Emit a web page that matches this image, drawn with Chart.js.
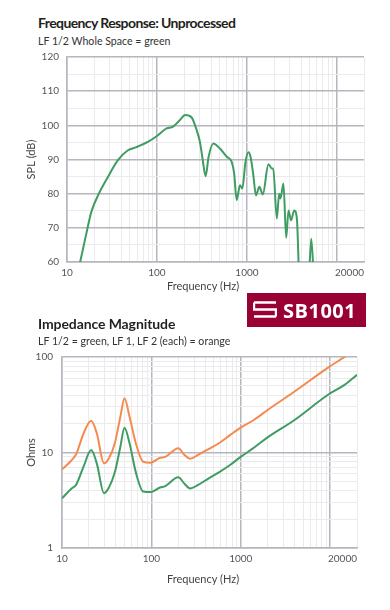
<!DOCTYPE html>
<html>
<head>
<meta charset="utf-8">
<script src="https://cdn.jsdelivr.net/npm/chart.js@4.4.1/dist/chart.umd.min.js"></script>
<style>
    body { margin: 0; width: 390px; height: 610px; background: #fff; position: relative; overflow: hidden; font-family: Lato, 'Open Sans', sans-serif; }
    .title { position: absolute; left: 38px; font-weight: bold; font-size: 14px; color: #231f20; white-space: nowrap; }
    .sub { position: absolute; left: 38px; font-size: 10.6px; color: #333; white-space: nowrap; }
    .xt { position: absolute; width: 140px; margin-left: -70px; text-align: center; font-size: 11px; color: #444; }
    canvas { position: absolute; left: 0; }
    .logo { position: absolute; left: 247px; top: 293px; width: 119px; height: 34px; background: #990033; color: #fff; }
    .logo svg { position: absolute; left: 6px; top: 8px; }
    .logo span { position: absolute; left: 36px; top: 4px; font: bold 20px 'Open Sans', sans-serif; letter-spacing: 0.5px; }
</style>
</head>
<body>
<div class="title" style="top:14px; letter-spacing:-0.6px">Frequency Response: Unprocessed</div>
<div class="sub" style="top:35px">LF 1/2 Whole Space = green</div>
<canvas id="splChart" width="390" height="300" style="top:0"></canvas>
<div class="xt" style="left:203px; top:279px">Frequency (Hz)</div>

<div class="logo">
    <svg width="24" height="17" viewBox="0 0 24 17" fill="none" stroke="#fff" stroke-width="2.4">
        <path d="M1 1.5 H23 M1 1.5 V8.5 H15 M9 8.5 H23 V15.5 M1 15.5 H23"/>
    </svg>
    <span>SB1001</span>
</div>

<div class="title" style="top:315px; letter-spacing:-0.1px">Impedance Magnitude</div>
<div class="sub" style="top:335px">LF 1/2 = green, LF 1, LF 2 (each) = orange</div>
<canvas id="impChart" width="390" height="310" style="top:300px"></canvas>
<div class="xt" style="left:203px; top:572px">Frequency (Hz)</div>

<script>
// --- frequency response (dB) ---
const freqSpl = [12, 14, 16.4, 18.6, 22.6, 28.5, 36.8, 47.6, 59, 80, 99, 128, 151, 179, 206, 243, 276, 300, 322, 347, 375, 422, 500, 596, 677, 720, 769, 837, 889, 960, 1038, 1096, 1170, 1262, 1374, 1500, 1733, 1888, 1960, 2148, 2280, 2360, 2545, 2729, 2897, 3093, 3350, 3589, 3840, 4300, 4900, 5190, 5500, 5800];
const splGreen = [52, 60, 68.3, 74.6, 80, 84.9, 89.8, 92.7, 93.6, 95.2, 96.8, 99.1, 99.6, 101.5, 103.0, 102.3, 98.6, 95.2, 90, 85.1, 90.8, 94.7, 93.2, 90.8, 89.3, 86, 78.1, 82.5, 81.5, 89, 92.1, 90.8, 86, 79.5, 82.0, 79.8, 88.6, 87.4, 87.4, 72.7, 80.0, 78.6, 83.0, 67.1, 75.1, 72.2, 75.1, 72.7, 52, 40, 56, 66.8, 56, 40];

// --- impedance (ohms) ---
const freqImp = [10, 12.8, 14.4, 17.5, 21.2, 24.5, 29.5, 33.5, 39, 45, 50, 57, 67, 81, 97.5, 125, 143, 200, 235, 272, 330, 430, 570, 760, 1000, 1400, 2000, 4000, 9400, 14500, 20000];
const impGreen = [3.31, 4.2, 4.6, 7.2, 10.6, 7.7, 3.75, 4.3, 6.2, 11.5, 18.2, 12.5, 6.2, 3.9, 3.85, 4.3, 4.45, 5.5, 4.7, 4.2, 4.55, 5.3, 6.2, 7.4, 9.0, 11.2, 14.4, 21.9, 40, 51, 65];
const impOrange = [6.67, 8.3, 9.6, 16, 21.5, 15.9, 7.7, 8.7, 12.5, 23.7, 37, 23.7, 12.5, 8.0, 7.8, 8.8, 9.0, 11.1, 9.4, 8.6, 9.4, 10.8, 12.5, 15.2, 18.2, 21.9, 27.9, 43.5, 77, 100, 123];

// --- axes ---
const xTickValues = [10, 100, 1000, 20000];
const splTicks = [60, 70, 80, 90, 100, 110, 120];
const ohmTicks = [1, 10, 100];

const GREEN = '#3f9c62';
const ORANGE = '#f58a4f';
const majorGrid = '#b6b6be';
const minorGrid = '#ebebed';
const tickColor = '#555559';
const FONT = "Lato, 'Open Sans', sans-serif";

const isDecade = v => Math.abs(Math.log10(v) - Math.round(Math.log10(v))) < 1e-6;

// minor gridlines first, labelled ticks last, so align:'inner' only right-aligns the 20000 label
function logTicks(min, max, labelled) {
    const minor = [], major = [];
    for (let d = min; d < max; d *= 10) {
        for (let m = 1; m < 10; m++) {
            const v = d * m;
            if (v > max) break;
            if (m === 1) major.push(v); else minor.push(v);
        }
    }
    const list = minor.filter(v => !labelled.includes(v)).concat(major.filter(v => !labelled.includes(v)));
    return list.concat(labelled).map(v => ({ value: v }));
}

function xAxis(height, pad) {
    return {
        type: 'logarithmic',
        min: 10,
        max: 20000,
        afterBuildTicks: s => { s.ticks = logTicks(10, 20000, xTickValues); },
        afterFit: s => { s.height = height; },
        grid: {
            drawTicks: false,
            color: c => (c.tick && isDecade(c.tick.value)) ? majorGrid : minorGrid,
            lineWidth: c => (c.tick && isDecade(c.tick.value)) ? 1.5 : 1,
        },
        border: { color: majorGrid, width: 1.5 },
        ticks: {
            autoSkip: false,
            maxRotation: 0,
            align: 'inner',
            padding: pad,
            color: tickColor,
            font: { family: FONT, size: 10 },
            callback: v => xTickValues.includes(v) ? String(v) : '',
        },
    };
}

const common = {
    responsive: false,
    animation: false,
    plugins: { legend: { display: false }, tooltip: { enabled: false } },
    elements: { point: { radius: 0 } },
};

new Chart(document.getElementById('splChart'), {
    type: 'line',
    data: {
        datasets: [{
            data: freqSpl.map((f, i) => ({ x: f, y: splGreen[i] })),
            borderColor: GREEN,
            borderWidth: 2,
            cubicInterpolationMode: 'monotone',
        }],
    },
    options: {
        ...common,
        layout: { padding: { top: 57, left: 0, right: 26, bottom: 8 } },
        scales: {
            x: xAxis(30, 5),
            y: {
                min: 60,
                max: 120,
                afterBuildTicks: s => {
                    const t = [];
                    for (let v = 60; v <= 120; v += 5) t.push({ value: v });
                    s.ticks = t;
                },
                afterFit: s => { s.width = 67; },
                grid: {
                    drawTicks: false,
                    color: c => (c.tick && splTicks.includes(c.tick.value)) ? majorGrid : minorGrid,
                    lineWidth: c => (c.tick && splTicks.includes(c.tick.value)) ? 1.5 : 1,
                },
                border: { color: majorGrid, width: 1.5 },
                ticks: {
                    autoSkip: false,
                    padding: 8,
                    color: tickColor,
                    font: { family: FONT, size: 10 },
                    callback: v => splTicks.includes(v) ? String(v) : '',
                },
                title: {
                    display: true,
                    text: 'SPL (dB)',
                    color: '#444',
                    padding: { top: 25, bottom: 0 },
                    font: { family: FONT, size: 11 },
                },
            },
        },
    },
});

new Chart(document.getElementById('impChart'), {
    type: 'line',
    data: {
        datasets: [
            {
                data: freqImp.map((f, i) => ({ x: f, y: impOrange[i] })),
                borderColor: ORANGE,
                borderWidth: 2,
                cubicInterpolationMode: 'monotone',
            },
            {
                data: freqImp.map((f, i) => ({ x: f, y: impGreen[i] })),
                borderColor: GREEN,
                borderWidth: 2,
                cubicInterpolationMode: 'monotone',
            },
        ],
    },
    options: {
        ...common,
        layout: { padding: { top: 57, left: 0, right: 33, bottom: 25 } },
        scales: {
            x: xAxis(37, 5),
            y: {
                type: 'logarithmic',
                min: 1,
                max: 100,
                afterBuildTicks: s => { s.ticks = logTicks(1, 100, ohmTicks); },
                afterFit: s => { s.width = 62; },
                grid: {
                    drawTicks: false,
                    color: c => (c.tick && isDecade(c.tick.value)) ? majorGrid : minorGrid,
                    lineWidth: c => (c.tick && isDecade(c.tick.value)) ? 1.5 : 1,
                },
                border: { color: majorGrid, width: 1.5 },
                ticks: {
                    autoSkip: false,
                    padding: 9,
                    color: tickColor,
                    font: { family: FONT, size: 10 },
                    callback: v => ohmTicks.includes(v) ? String(v) : '',
                },
                title: {
                    display: true,
                    text: 'Ohms',
                    color: '#444',
                    padding: { top: 25, bottom: 0 },
                    font: { family: FONT, size: 11 },
                },
            },
        },
    },
});
</script>
</body>
</html>
